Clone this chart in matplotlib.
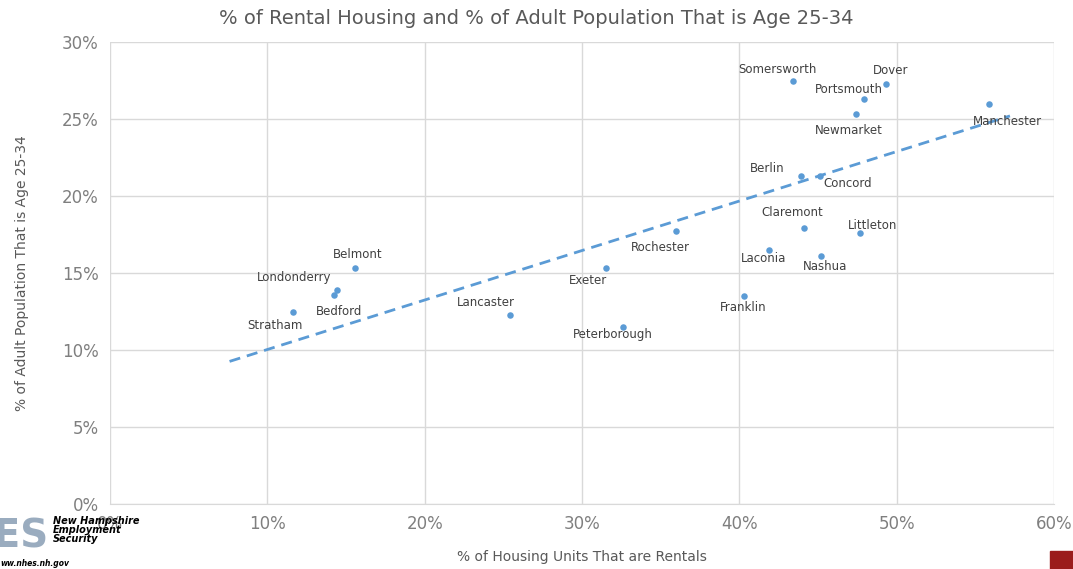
import numpy as np
import matplotlib
matplotlib.use("Agg")
import matplotlib.pyplot as plt
from matplotlib.ticker import PercentFormatter

# ---------------- Data ----------------
towns = ["Stratham", "Bedford", "Londonderry", "Belmont", "Lancaster", "Exeter",
         "Peterborough", "Rochester", "Franklin", "Laconia", "Claremont", "Nashua",
         "Littleton", "Berlin", "Concord", "Somersworth", "Portsmouth", "Newmarket",
         "Dover", "Manchester"]
pct_rentals = [11.6, 14.25, 14.4, 15.6, 25.4, 31.5, 32.6, 36.0, 40.3, 41.9,
               44.1, 45.2, 47.7, 43.9, 45.1, 43.4, 47.9, 47.4, 49.3, 55.9]
pct_age_25_34 = [12.5, 13.6, 13.9, 15.3, 12.3, 15.3, 11.5, 17.7, 13.5, 16.5,
                 17.9, 16.1, 17.6, 21.3, 21.3, 27.5, 26.3, 25.3, 27.3, 26.0]

# linear trendline end points as drawn in the original
trend_x = [7.6, 57.2]
trend_y = [9.26, 25.2]

# label offsets in pixels (dx, dy), up is positive
label_offsets = {
    "Stratham": (-18, -14), "Bedford": (5, -17), "Londonderry": (-42, 12),
    "Belmont": (2, 14), "Lancaster": (-24, 12), "Exeter": (-18, -12),
    "Peterborough": (-10, -8), "Rochester": (-16, -16), "Franklin": (-1, -11),
    "Laconia": (-6, -9), "Claremont": (-12, 16), "Nashua": (4, -10),
    "Littleton": (12, 7), "Berlin": (-34, 7), "Concord": (28, -8),
    "Somersworth": (-15, 11), "Portsmouth": (-15, 9), "Newmarket": (-7, -16),
    "Dover": (5, 13), "Manchester": (18, -18),
}

blue = "#5b9bd5"
grid_c = "#d9d9d9"
tick_c = "#7f7f7f"

# ---------------- Plot ----------------
fig = plt.figure(figsize=(10.73, 5.69), dpi=100)
ax = fig.add_axes([110 / 1073, 1 - 504 / 569, (1054 - 110) / 1073, (504 - 42) / 569])

ax.scatter(pct_rentals, pct_age_25_34, s=22, color=blue, zorder=3, linewidths=0)
ax.plot(trend_x, trend_y, color=blue, lw=2, dashes=(4, 2.5), zorder=2)

px = 0.72
for name, x, y in zip(towns, pct_rentals, pct_age_25_34):
    dx, dy = label_offsets[name]
    ax.annotate(name, (x, y), xytext=(dx * px, dy * px), textcoords="offset points",
                ha="center", va="center", fontsize=8.5, color="#404040", zorder=4)

ax.set_xlim(0, 60)
ax.set_ylim(0, 30)
ax.set_xticks(range(0, 61, 10))
ax.set_yticks(range(0, 31, 5))
ax.xaxis.set_major_formatter(PercentFormatter(decimals=0))
ax.yaxis.set_major_formatter(PercentFormatter(decimals=0))
ax.grid(True, color=grid_c, lw=1)
ax.set_axisbelow(True)
for s in ax.spines.values():
    s.set_visible(False)
ax.spines["bottom"].set_visible(True)
ax.spines["bottom"].set_color(grid_c)
ax.tick_params(length=0, labelsize=12, colors=tick_c, pad=8)

ax.set_xlabel("% of Housing Units That are Rentals", fontsize=10, color="#595959", labelpad=12)
ax.set_ylabel("% of Adult Population That is Age 25-34", fontsize=10, color="#595959", labelpad=24)
fig.text(0.5, 1 - 18 / 569, "% of Rental Housing and % of Adult Population That is Age 25-34",
         ha="center", va="center", fontsize=14, color="#595959")

# logo (approximation)
fig.text(49 / 1073, 1 - 536 / 569, "HES", fontsize=28, fontweight="bold", color="#8fa3b8",
         ha="right", va="center", family="DejaVu Sans", alpha=0.9)
fig.text(53 / 1073, 1 - 530 / 569, "New Hampshire\nEmployment\nSecurity", fontsize=7,
         fontweight="bold", style="italic", color="black", ha="left", va="center",
         linespacing=0.9)
fig.text(0, 1 - 563 / 569, "ww.nhes.nh.gov", fontsize=5.5, fontweight="bold",
         style="italic", color="black", ha="left", va="center")
fig.patches.append(plt.Rectangle((1050 / 1073, 0), 23 / 1073, 18 / 569,
                                 transform=fig.transFigure, color="#9b1c1c", figure=fig))

fig.savefig("out.png", dpi=100)
